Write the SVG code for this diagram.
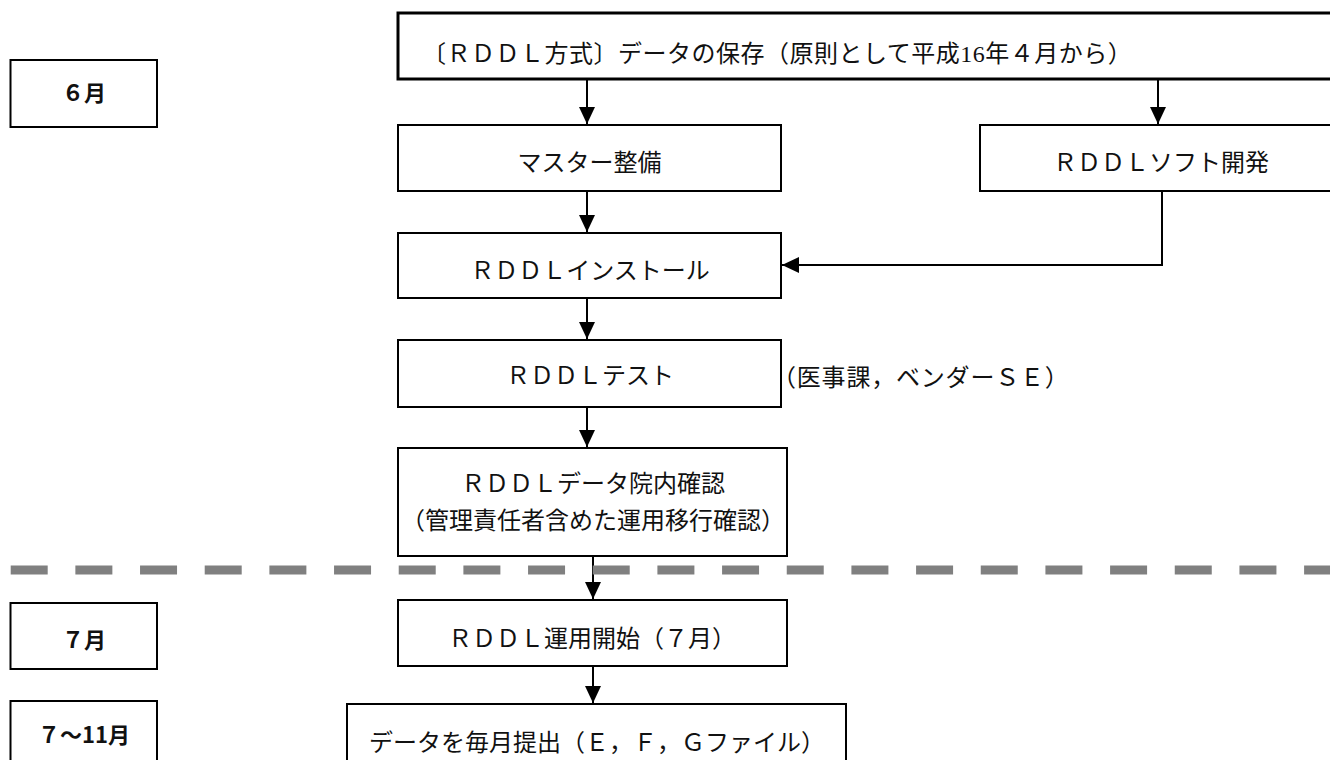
<svg xmlns="http://www.w3.org/2000/svg" width="1330" height="760" viewBox="0 0 1330 760">
<style>
.box{fill:#fff;stroke:#000;stroke-width:2}
.thick{fill:#fff;stroke:#000;stroke-width:3}
.t{font-family:"Liberation Serif","Noto Sans CJK JP",serif;font-size:24px;fill:#111}
.m{font-family:"Noto Sans CJK JP","Liberation Sans",sans-serif;font-size:22px;font-weight:bold;fill:#111}
.c{fill:none;stroke:#000;stroke-width:2}
</style>
<defs>
<marker id="ah" viewBox="0 0 17 16" refX="17" refY="8" markerWidth="17" markerHeight="16" markerUnits="userSpaceOnUse" orient="auto">
<path d="M0,0 L17,8 L0,16 z" fill="#000"/>
</marker>
</defs>
<rect x="0" y="0" width="1330" height="760" fill="#fff"/>

<g id="connectors">
<line class="c" x1="587" y1="80" x2="587" y2="124" marker-end="url(#ah)"/>
<line class="c" x1="1158" y1="80" x2="1158" y2="124" marker-end="url(#ah)"/>
<line class="c" x1="587" y1="191" x2="587" y2="232" marker-end="url(#ah)"/>
<polyline class="c" points="1162,191 1162,265 782,265" marker-end="url(#ah)"/>
<line class="c" x1="587" y1="298" x2="587" y2="339" marker-end="url(#ah)"/>
<line class="c" x1="587" y1="407" x2="587" y2="447" marker-end="url(#ah)"/>
<line class="c" x1="593" y1="556" x2="593" y2="599" marker-end="url(#ah)"/>
<line class="c" x1="593" y1="666" x2="593" y2="703" marker-end="url(#ah)"/>
</g>

<g id="divider">
<line x1="10.7" y1="570" x2="1340" y2="570" stroke="#808080" stroke-width="9" stroke-dasharray="37 27.67"/>
</g>

<g id="n-top">
<rect class="thick" x="398" y="13" width="950" height="66"/>
<text class="t" x="422" y="62" letter-spacing="0.5">〔ＲＤＤＬ方式〕データの保存（原則として平成16年４月から）</text>
</g>

<g id="m-june">
<rect class="box" x="10.5" y="60" width="146.5" height="67"/>
<text class="m" x="84" y="101" text-anchor="middle">６月</text>
</g>

<g id="n-master">
<rect class="box" x="398" y="125" width="383" height="66"/>
<text class="t" x="589.5" y="171" text-anchor="middle">マスター整備</text>
</g>

<g id="n-soft">
<rect class="box" x="980" y="125" width="370" height="66"/>
<text class="t" x="1161" y="171" text-anchor="middle">ＲＤＤＬソフト開発</text>
</g>

<g id="n-install">
<rect class="box" x="398" y="233" width="383" height="65"/>
<text class="t" x="590" y="279" text-anchor="middle">ＲＤＤＬインストール</text>
</g>

<g id="n-test">
<rect class="box" x="398" y="340" width="383" height="67"/>
<text class="t" x="590" y="384" text-anchor="middle">ＲＤＤＬテスト</text>
<text class="t" x="772" y="386" letter-spacing="0.8">（医事課，ベンダーＳＥ）</text>
</g>

<g id="n-confirm">
<rect class="box" x="398" y="448" width="389" height="108"/>
<text class="t" x="593" y="492" text-anchor="middle">ＲＤＤＬデータ院内確認</text>
<text class="t" x="593" y="529" text-anchor="middle">（管理責任者含めた運用移行確認）</text>
</g>

<g id="m-july">
<rect class="box" x="10.5" y="603" width="146.5" height="66"/>
<text class="m" x="84" y="648" text-anchor="middle">７月</text>
</g>

<g id="n-start">
<rect class="box" x="398" y="600" width="389" height="66"/>
<text class="t" x="592" y="647" text-anchor="middle">ＲＤＤＬ運用開始（７月）</text>
</g>

<g id="m-julnov">
<rect class="box" x="10.5" y="701" width="146.5" height="80"/>
<text class="m" x="84" y="743" text-anchor="middle">７～11月</text>
</g>

<g id="n-submit">
<rect class="box" x="347" y="704" width="499" height="80"/>
<text class="t" x="597" y="751" text-anchor="middle">データを毎月提出（Ｅ，Ｆ，Ｇファイル）</text>
</g>
</svg>
